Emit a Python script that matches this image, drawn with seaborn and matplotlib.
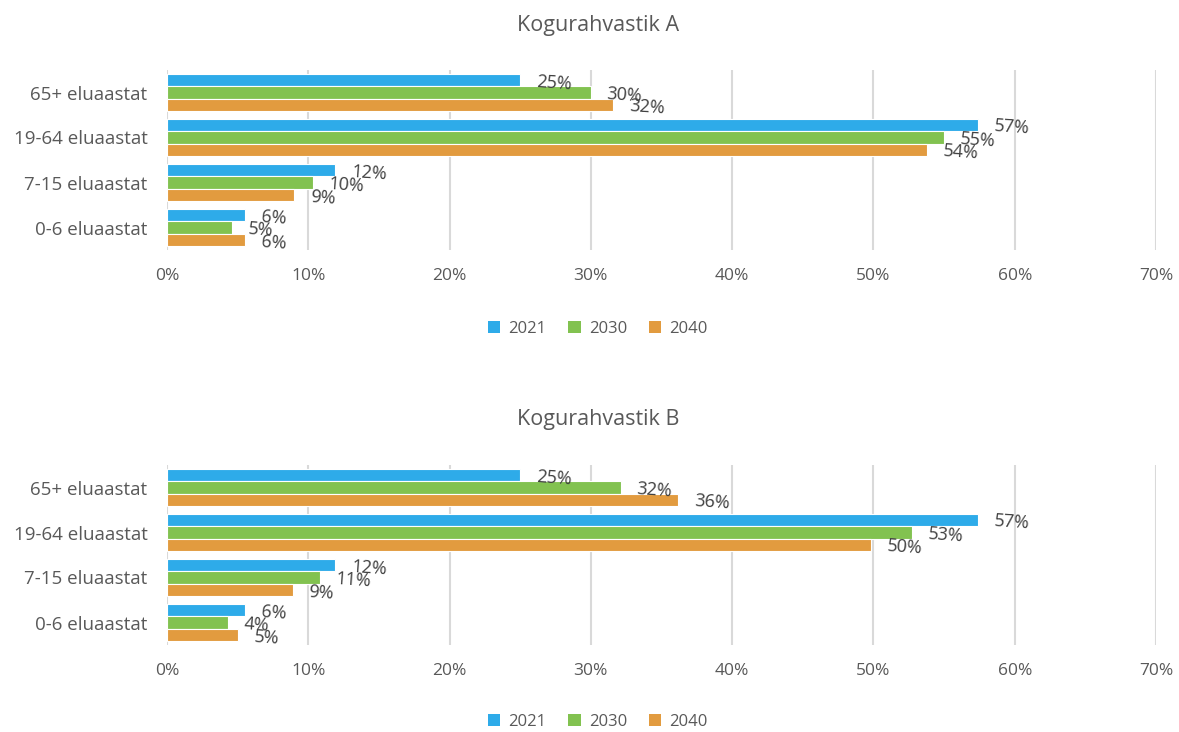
import matplotlib
matplotlib.use("Agg")
import matplotlib.pyplot as plt
import pandas as pd
import seaborn as sns
from matplotlib.patches import Patch

# data (percent)
groups = ["65+ eluaastat", "19-64 eluaastat", "7-15 eluaastat", "0-6 eluaastat"]
years = ["2021", "2030", "2040"]

a_2021 = [25.0, 57.4, 11.9, 5.5]
a_2030 = [30.0, 55.0, 10.3, 4.6]
a_2040 = [31.6, 53.8, 9.0, 5.5]

b_2021 = [25.0, 57.4, 11.9, 5.5]
b_2030 = [32.1, 52.7, 10.8, 4.3]
b_2040 = [36.2, 49.8, 8.9, 5.0]

titles = ["Kogurahvastik A", "Kogurahvastik B"]
xticks = [0, 10, 20, 30, 40, 50, 60, 70]

colors = ["#2EABE9", "#82C250", "#E29B3F"]
grey = "#595959"

sns.set_theme(style="white")
plt.rcParams['font.family'] = ['Open Sans', 'DejaVu Sans']


def make_df(v1, v2, v3):
    rows = []
    for yr, vals in zip(years, [v1, v2, v3]):
        for g, v in zip(groups, vals):
            rows.append({"grupp": g, "aasta": yr, "osakaal": v})
    return pd.DataFrame(rows)


dfs = [make_df(a_2021, a_2030, a_2040), make_df(b_2021, b_2030, b_2040)]

fig = plt.figure(figsize=(11.79, 7.32), dpi=100)
W, H = 1179, 732

# axes placement in pixels: (top, bottom) of plot area
boxes = [(70, 250), (465, 645)]
title_y = [25, 420]
legend_y = [329, 722]

for i, df in enumerate(dfs):
    top, bot = boxes[i]
    ax = fig.add_axes([167 / W, 1 - bot / H, (1156 - 167) / W, (bot - top) / H])
    sns.barplot(data=df, y="grupp", x="osakaal", hue="aasta", orient="h",
                palette=colors, saturation=1, width=0.83, ax=ax, legend=False,
                edgecolor="white", linewidth=0.8)
    ax.set_xlim(0, 70)
    ax.set_xticks(xticks)
    ax.set_xticklabels([f"{t}%" for t in xticks])
    ax.set_xlabel("")
    ax.set_ylabel("")
    for s in ax.spines.values():
        s.set_visible(False)
    ax.grid(axis="x", color="#D9D9D9", linewidth=1.5)
    ax.set_axisbelow(True)
    ax.tick_params(axis="x", length=0, pad=13, labelsize=12.5, labelcolor=grey)
    ax.tick_params(axis="y", length=0, pad=14, labelsize=13.5, labelcolor=grey)

    # value labels just right of each bar end, a bit low and tilted
    for cont in ax.containers:
        for b in cont:
            v = b.get_width()
            yc = b.get_y() + b.get_height() / 2
            ax.text(v + 1.1, yc + 0.06, f"{v:.0f}%", ha="left", va="center",
                    fontsize=13, color="#404040", rotation=-4)

    fig.text(0.507, 1 - title_y[i] / H, titles[i], ha="center", va="center",
             fontsize=15.5, color=grey)

    handles = [Patch(facecolor=c, edgecolor="none") for c in colors]
    fig.legend(handles, years, loc="center", bbox_to_anchor=(0.507, 1 - legend_y[i] / H),
               ncol=3, frameon=False, fontsize=12, labelcolor=grey,
               handlelength=0.75, handleheight=0.75, handletextpad=0.5, columnspacing=1.3)

fig.savefig("out.png", dpi=100)
